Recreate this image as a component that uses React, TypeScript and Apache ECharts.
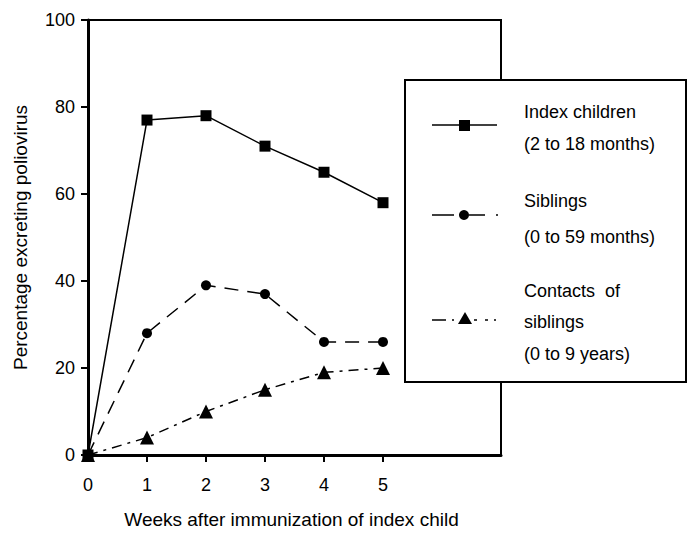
import React, { useEffect, useRef } from "react";
import * as echarts from "echarts";

const weeks = [0, 1, 2, 3, 4, 5];
const indexChildren = [0, 77, 78, 71, 65, 58];
const siblings = [0, 28, 39, 37, 26, 26];
const contacts = [0, 4, 10, 15, 19, 20];
const xTicks = [0, 1, 2, 3, 4, 5];
const legendLines = [
  ["Index children", "(2 to 18 months)"],
  ["Siblings", "(0 to 59 months)"],
  ["Contacts  of", "siblings", "(0 to 9 years)"],
];

const FONT = "'Liberation Sans', Arial, sans-serif";

export default function App() {
  const ref = useRef<HTMLDivElement>(null);
  useEffect(() => {
    if (!ref.current) return;
    const chart = echarts.init(ref.current, undefined, { renderer: "svg" });
    const mk = (vals: number[]) => weeks.map((w, i) => [w, vals[i]]);
    const textStyle = { fontFamily: FONT, fontSize: 18, fill: "#000" };
    const graphics: any[] = [
      {
        type: "rect",
        shape: { x: 405, y: 80, width: 281, height: 302 },
        style: { fill: "#fff", stroke: "#000", lineWidth: 2 },
        z: 100,
      },
      // legend: index children
      { type: "line", shape: { x1: 432, y1: 125, x2: 497, y2: 125 }, style: { stroke: "#000", lineWidth: 1.5 }, z: 101 },
      { type: "rect", shape: { x: 459, y: 120, width: 11, height: 11 }, style: { fill: "#000" }, z: 102 },
      // legend: siblings
      { type: "line", shape: { x1: 432, y1: 215, x2: 499, y2: 215 }, style: { stroke: "#000", lineWidth: 1.5, lineDash: [22, 15, 16, 11, 2, 10] }, z: 101 },
      { type: "circle", shape: { cx: 464, cy: 215, r: 5 }, style: { fill: "#000" }, z: 102 },
      // legend: contacts
      { type: "line", shape: { x1: 432, y1: 320, x2: 496, y2: 320 }, style: { stroke: "#000", lineWidth: 1.5, lineDash: [14, 6, 2, 20, 3, 8, 3, 6, 3] }, z: 101 },
      { type: "polygon", shape: { points: [[465, 312], [472, 324], [458, 324]] }, style: { fill: "#000" }, z: 102 },
    ];
    const textYs = [[112, 144], [201, 237], [291, 322, 354]];
    legendLines.forEach((lines, gi) => {
      lines.forEach((t, li) => {
        graphics.push({
          type: "text",
          x: 524,
          y: textYs[gi][li],
          style: { ...textStyle, text: t, verticalAlign: "middle" },
          z: 103,
        });
      });
    });
    chart.setOption({
      animation: false,
      grid: {
        left: 88,
        top: 20,
        right: 187,
        bottom: 79,
        show: true,
        borderColor: "#000",
        borderWidth: 2,
        backgroundColor: "transparent",
      },
      xAxis: {
        type: "value",
        min: 0,
        max: 7,
        interval: 1,
        name: "Weeks after immunization of index child",
        nameLocation: "middle",
        nameGap: 55,
        nameTextStyle: { fontFamily: FONT, fontSize: 19, color: "#000", padding: [0, 6, 0, 0] },
        axisLine: { show: true, lineStyle: { color: "#000", width: 3 } },
        axisTick: { show: true, length: 7, lineStyle: { color: "#000", width: 2 }, customValues: xTicks },
        axisLabel: { fontFamily: FONT, fontSize: 18, color: "#000", margin: 21, customValues: xTicks },
        splitLine: { show: false },
      },
      yAxis: {
        type: "value",
        min: 0,
        max: 100,
        interval: 20,
        name: "Percentage excreting poliovirus",
        nameLocation: "middle",
        nameGap: 58,
        nameTextStyle: { fontFamily: FONT, fontSize: 19, color: "#000" },
        axisLine: { show: true, lineStyle: { color: "#000", width: 3 } },
        axisTick: { show: true, length: 7, lineStyle: { color: "#000", width: 2 } },
        axisLabel: { fontFamily: FONT, fontSize: 18, color: "#000", margin: 13 },
        splitLine: { show: false },
      },
      series: [
        {
          type: "line",
          name: "Index children",
          data: mk(indexChildren),
          symbol: "rect",
          symbolSize: 11,
          itemStyle: { color: "#000" },
          lineStyle: { color: "#000", width: 1.5 },
        },
        {
          type: "line",
          name: "Siblings",
          data: mk(siblings),
          symbol: "circle",
          symbolSize: 10,
          itemStyle: { color: "#000" },
          lineStyle: { color: "#000", width: 1.5, type: [14, 9] },
        },
        {
          type: "line",
          name: "Contacts of siblings",
          data: mk(contacts),
          symbol: "triangle",
          symbolSize: 14,
          itemStyle: { color: "#000" },
          lineStyle: { color: "#000", width: 1.5, type: [10, 6, 3, 6] },
        },
      ],
      graphic: graphics,
    });
    return () => chart.dispose();
  }, []);
  return <div ref={ref} style={{ width: 688, height: 534, position: "absolute", left: 0, top: 0, background: "#fff" }} />;
}
